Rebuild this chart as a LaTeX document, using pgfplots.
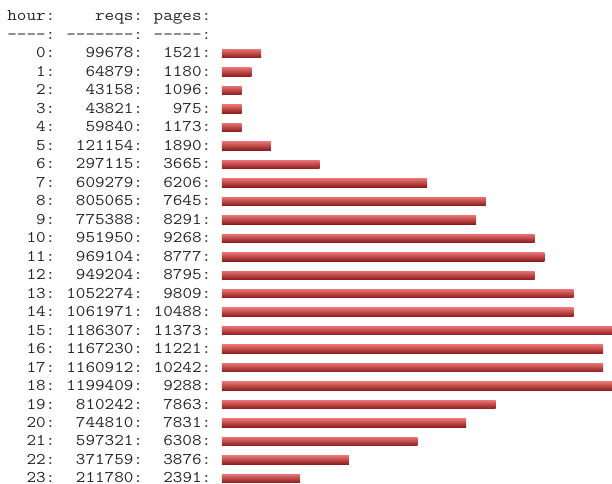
\documentclass[border=0pt]{standalone}
\usepackage{fontspec}
\usepackage{pgfplots}
\usepackage{pgfplotstable}
\pgfplotsset{compat=1.18}

\newfontfamily\mono{Latin Modern Mono}[FakeStretch=1.14, Ligatures=TeXOff]
\definecolor{barTop}{HTML}{E87070}
\definecolor{barMid}{HTML}{D03C3C}
\definecolor{barBot}{HTML}{8C1C1C}

\newlength\cw
\setlength\cw{9.77bp}
% one row of the text table: hour, reqs, pages, right aligned like printf
\newcommand\R[3]{\smash{\makebox[4\cw][r]{#1}:\makebox[8\cw][r]{#2}:\makebox[6\cw][r]{#3}:}\hspace*{\cw}}

% len = bar length in characters
\pgfplotstableread{
hour reqs pages len
0 99678 1521 4
1 64879 1180 3
2 43158 1096 2
3 43821 975 2
4 59840 1173 2
5 121154 1890 5
6 297115 3665 10
7 609279 6206 21
8 805065 7645 27
9 775388 8291 26
10 951950 9268 32
11 969104 8777 33
12 949204 8795 32
13 1052274 9809 36
14 1061971 10488 36
15 1186307 11373 40
16 1167230 11221 39
17 1160912 10242 39
18 1199409 9288 40
19 810242 7863 28
20 744810 7831 25
21 597321 6308 20
22 371759 3876 13
23 211780 2391 8
}\hours

\begin{document}
\begin{tikzpicture}
\begin{axis}[
    name=ax,
    xbar, bar width=8.5bp, bar shift=0pt,
    x=\cw, y=18.48bp,
    y dir=reverse,
    xmin=0, xmax=39.92,
    ymin=-2.895, ymax=23.295,
    enlargelimits=false,
    axis line style={draw=none},
    tick style={draw=none},
    xtick=\empty,
    ytick={-2,...,23},
    yticklabels={
        \R{hour}{reqs}{pages},
        \R{----}{-------}{-----},
        \R{0}{99678}{1521}, \R{1}{64879}{1180}, \R{2}{43158}{1096},
        \R{3}{43821}{975}, \R{4}{59840}{1173}, \R{5}{121154}{1890},
        \R{6}{297115}{3665}, \R{7}{609279}{6206}, \R{8}{805065}{7645},
        \R{9}{775388}{8291}, \R{10}{951950}{9268}, \R{11}{969104}{8777},
        \R{12}{949204}{8795}, \R{13}{1052274}{9809}, \R{14}{1061971}{10488},
        \R{15}{1186307}{11373}, \R{16}{1167230}{11221}, \R{17}{1160912}{10242},
        \R{18}{1199409}{9288}, \R{19}{810242}{7863}, \R{20}{744810}{7831},
        \R{21}{597321}{6308}, \R{22}{371759}{3876}, \R{23}{211780}{2391}
    },
    yticklabel style={font=\mono\fontsize{16.39pt}{18pt}\selectfont,
        anchor=base east, inner sep=0pt, xshift=3.5bp, yshift=-4.4bp, text=black!85},
]
% one plot per row so that every bar gets its own shading
\pgfplotsinvokeforeach{0,...,23}{
  \addplot[draw=none, top color=barTop, middle color=barMid, bottom color=barBot]
    table[x=len, y=hour, restrict expr to domain={\coordindex}{#1:#1}] {\hours};
}
\end{axis}
\pgfresetboundingbox
\path (ax.south west) ++(-222bp,0) rectangle (ax.north east);
\end{tikzpicture}
\end{document}
